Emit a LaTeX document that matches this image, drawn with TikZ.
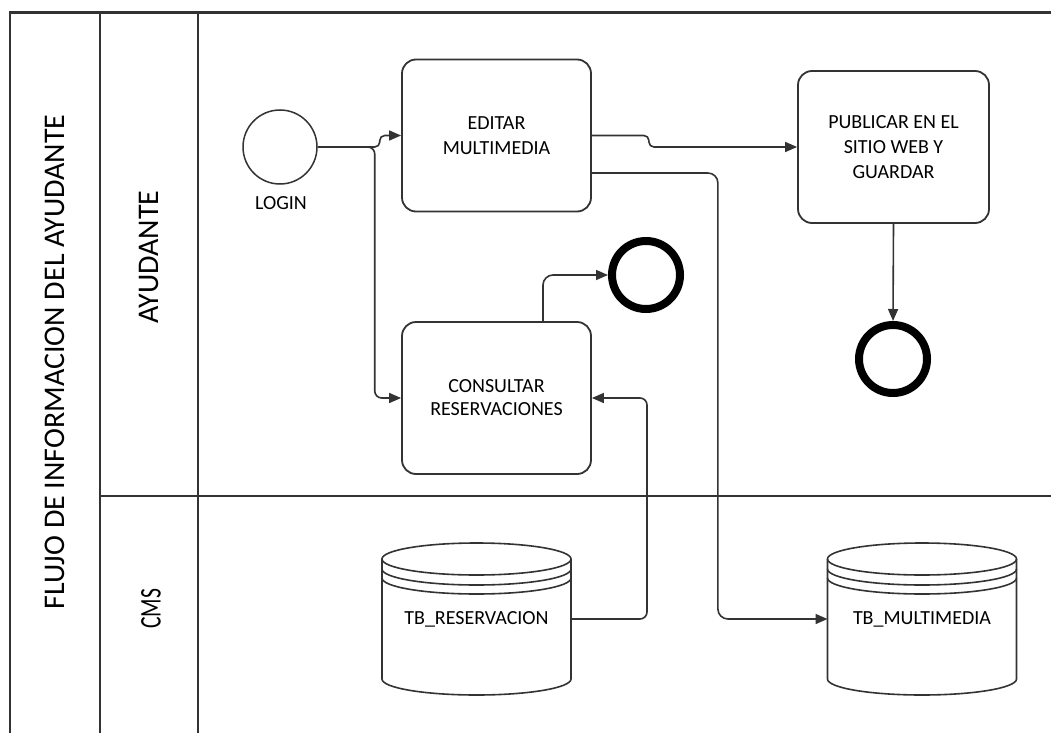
\documentclass[tikz,border=0pt]{standalone}
\usepackage{fontspec}
\setmainfont{Carlito}
\usetikzlibrary{arrows.meta,calc}

% draws a database drum around a node of fixed size
\newcommand\dbdrum[1]{%
  \draw[dbline] ($(#1.north)+(0,16)$) ellipse[x radius=94.5pt, y radius=16pt];
  \draw[dbline] ($(#1.north west)+(0,26)$) arc[start angle=180, end angle=360, x radius=94.5pt, y radius=16pt];
  \draw[dbline] ($(#1.north west)+(0,35)$) arc[start angle=180, end angle=360, x radius=94.5pt, y radius=16pt];
  \draw[dbline] ($(#1.north west)+(0,16)$) -- ($(#1.south west)+(0,-16)$)
    arc[start angle=180, end angle=360, x radius=94.5pt, y radius=16pt]
    -- ($(#1.north east)+(0,16)$);
}

\begin{document}
\begin{tikzpicture}[x=1pt, y=-1pt,
  lane/.style={line width=2pt, draw=black!80},
  lanetext/.style={rotate=90, font=\fontsize{30}{34}\selectfont},
  task/.style={draw=black!80, line width=1.8pt, rounded corners=14pt,
    minimum width=189pt, minimum height=152pt, align=center,
    font=\fontsize{20}{25}\selectfont, inner sep=0pt},
  startev/.style={circle, draw=black!80, line width=1.5pt, minimum size=74pt, inner sep=0pt},
  endev/.style={circle, draw=black, line width=8pt, minimum size=68pt, inner sep=0pt},
  db/.style={minimum width=189pt, minimum height=152pt, outer sep=0pt, inner sep=0pt,
    font=\fontsize{20}{25}\selectfont},
  dbline/.style={draw=black!80, line width=1.6pt},
  flow/.style={draw=black!80, line width=1.6pt, rounded corners=7pt,
    -{Triangle[length=12pt, width=10pt]}},
  lbl/.style={font=\fontsize{20}{25}\selectfont}
]
\fill[white] (0,0) rectangle (1051,733);
\useasboundingbox (0,0) rectangle (1051,733);

% pool and lanes
\draw[lane, line width=3pt] (9,13) -- (1051,13);
\draw[lane] (10,13) -- (10,733);
\draw[lane] (100,13) -- (100,733);
\draw[lane] (198,13) -- (198,733);
\draw[lane] (100,496) -- (1051,496);

\node[lanetext] (pool) at (55,362) {FLUJO DE INFORMACION DEL AYUDANTE};
\node[lanetext] (laneA) at (149,257) {AYUDANTE};
\node[lanetext] (laneB) at (151,609) {\scalebox{0.72}[1]{CMS}};

% events and tasks
\node[startev] (login) at (280,147) {};
\node[lbl] (loginlbl) at (281,203) {LOGIN};

\node[task] (editar) at (496.5,135.5) {EDITAR\\MULTIMEDIA};
\node[task, minimum width=191pt] (publicar) at (893.5,147) {PUBLICAR EN EL\\SITIO WEB Y\\GUARDAR};
\node[task, font=\fontsize{20}{23}\selectfont] (consultar) at (496.5,398) {CONSULTAR\\RESERVACIONES};

\node[endev] (endA) at (646,275) {};
\node[endev] (endB) at (893,359) {};

% data stores
\node[db] (tbres) at (476.5,619) {TB\_RESERVACION};
\node[db] (tbmul) at (922,619) {TB\_MULTIMEDIA};
\dbdrum{tbres}
\dbdrum{tbmul}

% sequence and data flows
\draw[flow, rounded corners=5pt] (login.east) -- ++(62,0) |- (editar.west);
\draw[flow] (login.east) -- ++(57,0) |- (consultar.west);
\draw[flow, rounded corners=5pt] (editar.east) -- ++(57,0) |- (publicar.west);
\draw[flow, rounded corners=10pt] ($(editar.east)+(0,37.5)$) -- ++(126,0) |- (tbmul.west);
\draw[flow] (tbres.east) -- ++(76,0) |- (consultar.east);
\draw[flow, rounded corners=10pt] ($(consultar.north)+(46.5,0)$) |- (endA.west);
\draw[flow] (publicar.south) -- (endB.north);
\end{tikzpicture}
\end{document}
